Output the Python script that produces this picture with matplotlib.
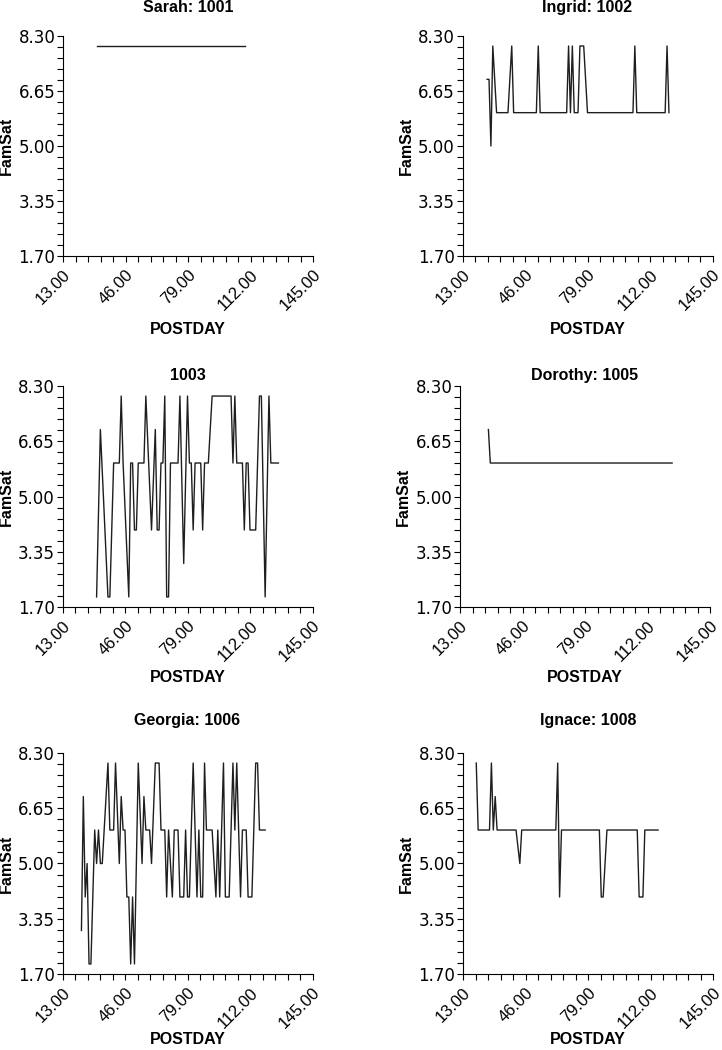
import numpy as np
import matplotlib
matplotlib.use("Agg")
import matplotlib.pyplot as plt
from matplotlib.ticker import FixedLocator, FormatStrFormatter

# FamSat by POSTDAY, one panel per person
titles = ["Sarah: 1001", "Ingrid: 1002", "1003", "Dorothy: 1005",
          "Georgia: 1006", "Ignace: 1008"]

sarah_day = [31, 109]
sarah_famsat = [8, 8]

ingrid_day = [26, 27, 28, 29, 31, 37, 39, 40, 52, 53, 54, 68, 69, 70, 71, 72,
              74, 75, 77, 79, 103, 104, 105, 120, 121, 122]
ingrid_famsat = [7, 7, 5, 8, 6, 6, 8, 6, 6, 8, 6, 6, 8, 6, 8, 6,
                 6, 8, 8, 6, 6, 8, 6, 6, 8, 6]

p1003_day = [31, 33, 37, 38, 40, 43, 44, 45, 48, 49, 50, 51, 52, 53, 56, 57,
             60, 62, 63, 64, 65, 66, 67, 68, 69, 70, 74, 75, 77, 79, 80, 81,
             82, 83, 86, 87, 88, 90, 92, 102, 103, 104, 105, 108, 109, 110,
             111, 112, 115, 117, 118, 120, 122, 123, 127]
p1003_famsat = [2, 7, 2, 2, 6, 6, 8, 6, 2, 6, 6, 4, 4, 6, 6, 8,
                4, 7, 4, 4, 6, 6, 8, 2, 2, 6, 6, 8, 3, 8, 6, 6,
                4, 6, 6, 4, 6, 6, 8, 8, 6, 8, 6, 6, 4, 6,
                6, 4, 4, 8, 8, 2, 8, 6, 6]

dorothy_day = [28, 29, 125]
dorothy_famsat = [7, 6, 6]

georgia_day = [23, 24, 25, 26, 27, 28, 30, 31, 32, 33, 34, 37, 38, 40, 41, 43,
               44, 45, 46, 47, 48, 49, 50, 51, 53, 55, 56, 57, 59, 60, 62, 64,
               65, 67, 68, 69, 71, 72, 74, 75, 77, 78, 79, 80, 82, 84, 85, 86,
               87, 88, 89, 92, 94, 95, 96, 98, 99, 101, 103, 104, 105, 107,
               108, 110, 111, 113, 115, 116, 117, 120]
georgia_famsat = [3, 7, 4, 5, 2, 2, 6, 5, 6, 5, 5, 8, 6, 6, 8, 5,
                  7, 6, 6, 4, 4, 2, 4, 2, 8, 5, 7, 6, 6, 5, 8, 8,
                  6, 6, 4, 6, 4, 6, 6, 4, 4, 6, 4, 4, 8, 4, 6, 4,
                  4, 8, 6, 6, 4, 6, 4, 8, 4, 4, 8, 6, 8, 4,
                  6, 6, 4, 4, 8, 8, 6, 6]

ignace_day = [20, 21, 27, 28, 29, 30, 31, 41, 43, 44, 62, 63, 64, 65, 85, 86,
              87, 89, 105, 106, 108, 109, 116]
ignace_famsat = [8, 6, 6, 8, 6, 7, 6, 6, 5, 6, 6, 8, 4, 6, 6, 4,
                 4, 6, 6, 4, 4, 6, 6]

days = [sarah_day, ingrid_day, p1003_day, dorothy_day, georgia_day, ignace_day]
famsat = [sarah_famsat, ingrid_famsat, p1003_famsat, dorothy_famsat,
          georgia_famsat, ignace_famsat]

x_ticks = [13.00, 46.00, 79.00, 112.00, 145.00]
y_ticks = [1.70, 3.35, 5.00, 6.65, 8.30]

W, H = 722, 1050
fig = plt.figure(figsize=(W / 100, H / 100), dpi=100)

# panel boxes in pixels: left, top, bottom
boxes = [(63, 36, 256), (462.5, 36, 256),
         (62.5, 386, 607), (460, 386, 607),
         (62.5, 753, 974), (463, 753, 974)]
title_y = [7.5, 375, 720]
xlabel_y = [329, 678, 1040]

ytick_font = {"family": "DejaVu Sans", "size": 12}
xtick_font = {"family": "Liberation Sans", "size": 12}
lab_font = dict(family="Liberation Sans", weight="bold", size=11.5)

for i, (x0, y0, y1) in enumerate(boxes):
    ax = fig.add_axes([x0 / W, 1 - y1 / H, 250 / W, (y1 - y0) / H])
    ax.plot(days[i], famsat[i], color="#1e1e1e", lw=1.0)
    ax.set_xlim(x_ticks[0], x_ticks[-1])
    ax.set_ylim(y_ticks[0], y_ticks[-1])
    for s in ["top", "right"]:
        ax.spines[s].set_visible(False)
    for s in ["left", "bottom"]:
        ax.spines[s].set_linewidth(0.8)
    ax.set_xticks(x_ticks)
    ax.set_yticks(y_ticks)
    ax.xaxis.set_minor_locator(FixedLocator(np.arange(13, 145.01, 6.6)))
    ax.yaxis.set_minor_locator(FixedLocator(np.arange(1.70, 8.31, 0.33)))
    ax.xaxis.set_major_formatter(FormatStrFormatter("%.2f"))
    ax.yaxis.set_major_formatter(FormatStrFormatter("%.2f"))
    ax.tick_params(which="both", direction="out", width=0.8)
    ax.tick_params(which="major", length=4.5)
    ax.tick_params(which="minor", length=4)
    ax.tick_params(axis="y", pad=1)
    ax.tick_params(axis="x", pad=3.5)
    for lab in ax.get_yticklabels():
        lab.set_fontproperties(ytick_font)
    for lab in ax.get_xticklabels():
        lab.set_fontproperties(xtick_font)
        lab.set_rotation(45)
        lab.set_ha("right")
        lab.set_va("top")
        lab.set_rotation_mode("anchor")

    row = i // 2
    cx = (x0 + 125) / W
    fig.text(cx, 1 - title_y[row] / H, titles[i], ha="center", va="center", **lab_font)
    fig.text(cx, 1 - xlabel_y[row] / H, "POSTDAY", ha="center", va="center", **lab_font)
    fig.text((x0 - 56.5) / W, 1 - ((y0 + y1) / 2) / H, "FamSat", rotation=90,
             ha="center", va="center", **lab_font)

fig.savefig("out.png", dpi=100)
